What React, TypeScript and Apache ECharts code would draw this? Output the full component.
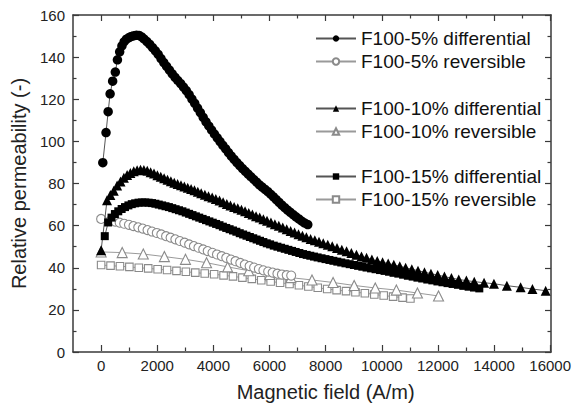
import React, { useEffect, useRef } from "react";
import * as echarts from "echarts";

// ---------- data (H in A/m, relative permeability) ----------
const f5Diff: [number, number][] = [
  [60, 89.9], [175, 104.2], [250, 114.1], [320, 122.6], [410, 128.6], [505, 132.9], [580, 138.7],
  [660, 142.5], [740, 145.3], [820, 147.3], [900, 148.5], [990, 149.3], [1080, 149.8], [1170, 150.2],
  [1260, 150.4], [1350, 150.3], [1440, 149.6], [1530, 148.6], [1630, 147.4], [1730, 146], [1830, 144.5],
  [1930, 143], [2030, 141.3], [2130, 139.3], [2230, 137.4], [2330, 135.6], [2430, 133.8], [2530, 132],
  [2630, 130.4], [2730, 128.9], [2830, 127.4], [2930, 125.8], [3030, 124.1], [3130, 122.2], [3230, 120.1],
  [3330, 118], [3430, 115.8], [3530, 113.6], [3630, 111.4], [3730, 109.3], [3830, 107.3], [3930, 105.4],
  [4030, 103.5], [4130, 101.7], [4230, 99.9], [4330, 98.1], [4430, 96.4], [4530, 94.7], [4630, 93],
  [4730, 91.4], [4830, 89.9], [4930, 88.5], [5030, 87.1], [5130, 85.8], [5230, 84.5], [5330, 83.2],
  [5430, 81.9], [5530, 80.6], [5630, 79.4], [5730, 78.3], [5830, 77.2], [5930, 76.1], [6030, 74.9],
  [6130, 73.6], [6230, 72.3], [6330, 71], [6430, 69.7], [6530, 68.5], [6630, 67.4], [6730, 66.3],
  [6830, 65.2], [6930, 64.2], [7030, 63.2], [7130, 62.2], [7230, 61.3], [7350, 60.5],
];

const f5Rev: [number, number][] = [
  [0, 63.2], [330, 62.4], [500, 61.9], [660, 61.4], [820, 60.9], [990, 60.4], [1150, 59.8], [1320, 59.2],
  [1480, 58.6], [1650, 57.9], [1810, 57.2], [1980, 56.5], [2140, 55.8], [2310, 55.0], [2470, 54.3],
  [2640, 53.5], [2800, 52.7], [2970, 51.9], [3130, 51.1], [3300, 50.3], [3460, 49.5], [3630, 48.7],
  [3790, 47.9], [3960, 47.1], [4120, 46.3], [4290, 45.5], [4450, 44.7], [4620, 43.9], [4780, 43.1],
  [4950, 42.3], [5110, 41.5], [5280, 40.8], [5440, 40.1], [5610, 39.4], [5770, 38.8], [5940, 38.2],
  [6100, 37.7], [6270, 37.2], [6430, 36.8], [6600, 36.5], [6760, 36.3],
];

const f10Diff: [number, number][] = [
  [0, 48.3], [210, 72], [330, 74.5], [450, 76.5], [570, 79], [690, 81], [810, 82.7], [925, 84],
  [1040, 85], [1160, 85.8], [1280, 86.3], [1400, 86.5], [1520, 86.4], [1640, 86], [1760, 85.4],
  [1880, 84.7], [2000, 83.9], [2120, 83.2], [2240, 82.5], [2360, 81.8], [2480, 81.1], [2600, 80.4],
  [2720, 79.8], [2840, 79.2], [2960, 78.6], [3080, 78], [3200, 77.4], [3320, 76.8], [3440, 76.1],
  [3560, 75.4], [3690, 74.7], [3820, 74], [3950, 73.3], [4080, 72.6], [4210, 71.9], [4340, 71.1],
  [4470, 70.3], [4600, 69.6], [4730, 68.9], [4860, 68.2], [4990, 67.5], [5120, 66.8], [5250, 66],
  [5380, 65.3], [5510, 64.5], [5640, 63.8], [5770, 63], [5900, 62.3], [6040, 61.5], [6180, 60.7],
  [6320, 59.9], [6460, 59.1], [6600, 58.3], [6740, 57.5], [6880, 56.7], [7020, 55.9], [7160, 55.2],
  [7300, 54.5], [7450, 53.7], [7600, 53], [7750, 52.3], [7900, 51.6], [8060, 50.9], [8220, 50.2],
  [8390, 49.4], [8560, 48.6], [8730, 47.8], [8900, 47], [9080, 46.2], [9260, 45.4], [9440, 44.7],
  [9630, 43.9], [9820, 43.2], [10010, 42.6], [10210, 42], [10410, 41.4], [10620, 40.7], [10830, 40],
  [11050, 39.3], [11270, 38.6], [11500, 37.9], [11730, 37.2], [11970, 36.5], [12210, 35.8],
  [12460, 35.1], [12720, 34.4], [12990, 33.9], [13270, 33.4], [13620, 32.9], [13970, 32.4],
  [14430, 31.5], [14920, 30.7], [15340, 29.9], [15810, 29.1],
];

const f10Rev: [number, number][] = [
  [0, 47.5], [750, 47.2], [1500, 46.5], [2250, 45.3], [3000, 44], [3750, 42.4], [4500, 40.4],
  [5250, 38.6], [6000, 36.8], [6750, 35.3], [7500, 34.2], [8250, 33], [9000, 31.6], [9750, 30.4],
  [10500, 29.4], [11250, 28], [12000, 26.6],
];

const f15Diff: [number, number][] = [
  [130, 55], [250, 61.5], [370, 63.8], [490, 65.5], [610, 66.8], [730, 67.9], [850, 68.8], [970, 69.6],
  [1090, 70.2], [1210, 70.6], [1330, 70.9], [1450, 71], [1570, 71], [1690, 70.9], [1810, 70.7],
  [1930, 70.4], [2050, 70], [2170, 69.6], [2290, 69.2], [2410, 68.8], [2530, 68.3], [2650, 67.8],
  [2770, 67.3], [2890, 66.8], [3010, 66.2], [3130, 65.6], [3250, 65], [3370, 64.4], [3490, 63.8],
  [3610, 63.2], [3730, 62.6], [3850, 62], [3970, 61.4], [4090, 60.8], [4210, 60.2], [4330, 59.5],
  [4450, 58.9], [4570, 58.3], [4690, 57.7], [4810, 57.1], [4930, 56.4], [5050, 55.8], [5170, 55.2],
  [5290, 54.6], [5410, 54], [5530, 53.4], [5650, 52.8], [5770, 52.2], [5890, 51.6], [6010, 51.1],
  [6140, 50.5], [6270, 50], [6400, 49.5], [6530, 49], [6660, 48.5], [6790, 48], [6920, 47.5],
  [7050, 47], [7180, 46.5], [7310, 46.1], [7440, 45.7], [7570, 45.3], [7700, 44.9], [7840, 44.5],
  [7980, 44.1], [8120, 43.7], [8260, 43.3], [8400, 42.9], [8540, 42.5], [8690, 42.1], [8840, 41.7],
  [8990, 41.3], [9140, 40.9], [9290, 40.5], [9440, 40.1], [9600, 39.7], [9760, 39.3], [9920, 38.9],
  [10080, 38.5], [10240, 38.1], [10400, 37.6], [10570, 37.2], [10740, 36.7], [10910, 36.2],
  [11080, 35.8], [11250, 35.3], [11420, 34.9], [11600, 34.4], [11780, 34], [11960, 33.5],
  [12140, 33.1], [12320, 32.7], [12500, 32.3], [12690, 31.9], [12880, 31.4], [13070, 31],
  [13260, 30.6], [13450, 30.2],
];

const f15Rev: [number, number][] = [
  [0, 41.3], [335, 41.0], [670, 40.7], [1005, 40.4], [1340, 40.0], [1675, 39.7], [2010, 39.3],
  [2345, 38.9], [2680, 38.5], [3015, 38.1], [3350, 37.7], [3685, 37.3], [4020, 36.9], [4355, 36.4],
  [4690, 35.9], [5025, 35.3], [5360, 34.7], [5695, 34.1], [6030, 33.5], [6365, 32.9], [6700, 32.3],
  [7035, 31.7], [7370, 31.1], [7705, 30.5], [8040, 29.9], [8375, 29.4], [8710, 28.9], [9045, 28.4],
  [9380, 27.9], [9715, 27.3], [10050, 26.8], [10385, 26.3], [10720, 25.8], [11000, 25.4],
];

const names = [
  "F100-5% differential",
  "F100-5% reversible",
  "F100-10% differential",
  "F100-10% reversible",
  "F100-15% differential",
  "F100-15% reversible",
];

const xTitle = "Magnetic field (A/m)";
const yTitle = "Relative permeability (-)";

// ---------- component ----------
const FONT = '"Liberation Sans", Arial, Helvetica, sans-serif';

export default function App() {
  const ref = useRef<HTMLDivElement>(null);

  useEffect(() => {
    if (!ref.current) return;
    const chart = echarts.init(ref.current, null, { renderer: "svg" });

    const axisColor = "#3a3a3a";
    const gLeft = 73, gTop = 15, gW = 478, gH = 337;
    const xMin = -1000, xMax = 16000;
    const zeroOffset = (gW * (0 - xMin)) / (xMax - xMin);
    const plain = (v: number) => String(v);

    const frameAxis = (pos: "top" | "bottom") => ({
      type: "value", gridIndex: 0, position: pos, min: xMin, max: xMax,
      axisLine: { show: true, onZero: false, lineStyle: { color: axisColor, width: 1.5 } },
      axisTick: { show: false }, axisLabel: { show: false }, splitLine: { show: false },
    });
    const tickAxis = (pos: "top" | "bottom", labels: boolean) => ({
      type: "value", gridIndex: 1, position: pos, min: 0, max: 16000, interval: 2000,
      axisLine: { show: false, onZero: false },
      axisTick: { show: true, inside: true, length: 6, lineStyle: { color: axisColor, width: 1.2 } },
      minorTick: { show: true, splitNumber: 2, length: 3.5, lineStyle: { color: axisColor, width: 1.2 } },
      axisLabel: { show: labels, fontSize: 15, color: "#222", fontFamily: FONT, margin: 7, formatter: plain },
      splitLine: { show: false },
      ...(labels
        ? {
            name: xTitle, nameLocation: "middle", nameGap: 31,
            nameTextStyle: { fontSize: 20, color: "#222", fontFamily: FONT },
          }
        : {}),
    });
    const yAxisDef = (pos: "left" | "right", labels: boolean) => ({
      type: "value", gridIndex: 0, position: pos, min: 0, max: 160, interval: 20,
      axisLine: { show: true, onZero: false, lineStyle: { color: axisColor, width: 1.5 } },
      axisTick: { show: true, inside: true, length: 6, lineStyle: { color: axisColor, width: 1.2 } },
      minorTick: { show: true, splitNumber: 2, length: 3.5, lineStyle: { color: axisColor, width: 1.2 } },
      axisLabel: { show: labels, fontSize: 15, color: "#222", fontFamily: FONT, margin: 8, formatter: plain },
      splitLine: { show: false },
      ...(labels
        ? {
            name: yTitle, nameLocation: "middle", nameGap: 44, nameRotate: 90,
            nameTextStyle: { fontSize: 20, color: "#222", fontFamily: FONT },
          }
        : {}),
    });

    const filled = (name: string, data: [number, number][], symbol: string, size: number) => ({
      name, type: "line", data, xAxisIndex: 0, yAxisIndex: 0,
      symbol, symbolSize: size, showAllSymbol: true,
      itemStyle: { color: "#000", borderColor: "#000", borderWidth: 0 },
      lineStyle: { color: "#555", width: 1 },
      emphasis: { disabled: true }, z: 3,
    });
    const open = (name: string, data: [number, number][], symbol: string, size: number) => ({
      name, type: "line", data, xAxisIndex: 0, yAxisIndex: 0,
      symbol, symbolSize: size, showAllSymbol: true,
      itemStyle: { color: "#fff", borderColor: "#8a8a8a", borderWidth: 1.1 },
      lineStyle: { color: "#9a9a9a", width: 1 },
      emphasis: { disabled: true }, z: 2,
    });

    const legendCommon = {
      orient: "vertical", left: 315, itemWidth: 40, itemHeight: 8, itemGap: 4, padding: 0,
      selectedMode: false,
      textStyle: { fontSize: 19, color: "#111", fontFamily: FONT },
    };

    chart.setOption({
      animation: false,
      backgroundColor: "#fff",
      grid: [
        { left: gLeft, top: gTop, width: gW, height: gH },
        { left: gLeft + zeroOffset, top: gTop, width: gW - zeroOffset, height: gH },
      ],
      xAxis: [frameAxis("bottom"), frameAxis("top"), tickAxis("bottom", true), tickAxis("top", false)],
      yAxis: [
        yAxisDef("left", true),
        yAxisDef("right", false),
        { type: "value", gridIndex: 1, show: false, min: 0, max: 1 },
      ],
      legend: [
        { ...legendCommon, top: 29, data: [names[0], names[1]] },
        { ...legendCommon, top: 99, data: [names[2], names[3]] },
        { ...legendCommon, top: 167, data: [names[4], names[5]] },
      ],
      series: [
        open(names[5], f15Rev, "rect", 7.5),
        open(names[3], f10Rev, "triangle", 10),
        open(names[1], f5Rev, "circle", 9),
        filled(names[4], f15Diff, "rect", 8),
        filled(names[2], f10Diff, "triangle", 10),
        filled(names[0], f5Diff, "circle", 9.5),
      ],
    });

    return () => chart.dispose();
  }, []);

  return (
    <div
      ref={ref}
      style={{ position: "fixed", left: 0, top: 0, width: 574, height: 407, background: "#fff" }}
    />
  );
}
